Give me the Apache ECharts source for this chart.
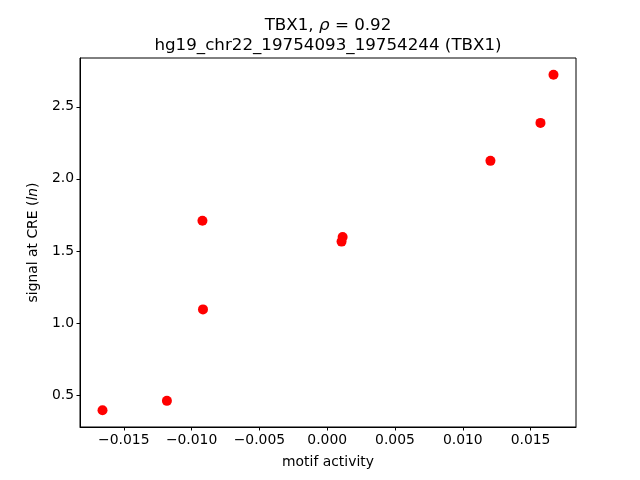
<!DOCTYPE html>
<html>
<head>
<meta charset="utf-8">
<script src="https://cdn.jsdelivr.net/npm/echarts@6/dist/echarts.min.js"></script>
<style>html,body{margin:0;padding:0;background:#fff;}#c{width:640px;height:480px;}</style>
</head>
<body>
<div id="c"></div>
<script>
const motifActivity = [-0.01657, -0.01182, -0.00920, -0.00916, 0.00106, 0.00114, 0.01204, 0.01573, 0.01669];
const signalAtCRE = [0.396, 0.461, 1.710, 1.095, 1.565, 1.597, 2.125, 2.388, 2.722];
const xTicks = [-0.015, -0.010, -0.005, 0.000, 0.005, 0.010, 0.015];
const yTicks = [0.5, 1.0, 1.5, 2.0, 2.5];
const xRange = [-0.01823, 0.01835];
const yRange = [0.2797, 2.838];

const font = 'DejaVu Sans';
const points = motifActivity.map((x, i) => [x, signalAtCRE[i]]);
const fmtX = v => { const s = Math.abs(v).toFixed(3); return (v < -1e-9 ? '\u2212' : '') + s; };

const chart = echarts.init(document.getElementById('c'), null, {renderer: 'canvas'});
chart.setOption({
  animation: false,
  backgroundColor: '#fff',
  title: {
    text: '{a|TBX1, }{i|ρ}{a| = 0.92}\n{a|hg19_chr22_19754093_19754244 (TBX1)}',
    left: 323, textAlign: 'center', top: 11,
    textStyle: {
      fontFamily: font, fontSize: 16.7, fontWeight: 'normal', color: '#000', lineHeight: 20,
      rich: {
        a: {fontFamily: font, fontSize: 16.7, color: '#000', lineHeight: 20},
        i: {fontFamily: font, fontSize: 16.7, fontStyle: 'italic', color: '#000', lineHeight: 20}
      }
    }
  },
  grid: {left: 80, right: 64, top: 58, bottom: 53, show: true, borderColor: '#000', borderWidth: 1, backgroundColor: 'transparent'},
  xAxis: {
    type: 'value', min: xRange[0], max: xRange[1],
    name: 'motif activity', nameLocation: 'middle', nameGap: 28,
    nameTextStyle: {fontFamily: font, fontSize: 13.9, color: '#000'},
    axisLine: {show: true, onZero: false, lineStyle: {color: '#000', width: 1}},
    axisTick: {show: true, length: 3.5, lineStyle: {color: '#000'}, customValues: xTicks},
    axisLabel: {fontFamily: font, fontSize: 13.9, color: '#000', margin: 6, customValues: xTicks, formatter: fmtX},
    splitLine: {show: false}
  },
  yAxis: {
    type: 'value', min: yRange[0], max: yRange[1],
    name: '{a|signal at CRE (}{i|ln}{a|)}', nameLocation: 'middle', nameGap: 40, nameRotate: 90,
    nameTextStyle: {fontFamily: font, fontSize: 13.9, color: '#000',
      rich: {a: {fontFamily: font, fontSize: 13.9, color: '#000'}, i: {fontFamily: font, fontSize: 13.9, fontStyle: 'italic', color: '#000'}}},
    axisLine: {show: true, onZero: false, lineStyle: {color: '#000', width: 1}},
    axisTick: {show: true, length: 3.5, lineStyle: {color: '#000'}, customValues: yTicks},
    axisLabel: {fontFamily: font, fontSize: 13.9, color: '#000', margin: 6, customValues: yTicks, formatter: v => v.toFixed(1)},
    splitLine: {show: false}
  },
  series: [{
    type: 'scatter', data: points, symbol: 'circle', symbolSize: 10,
    itemStyle: {color: '#ff0000', opacity: 1}
  }]
});
</script>
</body>
</html>
